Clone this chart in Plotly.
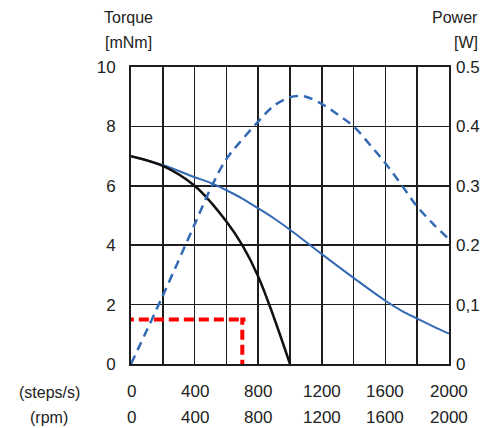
import plotly.graph_objects as go

# --- data ---
speed = [0, 200, 400, 600, 700, 800, 900, 1000]
torque_pullout_black = [7.0, 6.67, 6.0, 4.8, 4.0, 2.95, 1.55, 0.0]

speed_blue = [0, 200, 400, 500, 600, 700, 800, 900, 1000, 1200, 1400, 1600, 1700, 1800,
              1900, 2000]
torque_blue = [7.0, 6.7, 6.29, 6.1, 5.85, 5.57, 5.24, 4.9, 4.52, 3.7, 2.9, 2.13, 1.8,
               1.53, 1.27, 1.02]

speed_power = [0, 200, 400, 500, 600, 700, 800, 900, 1000, 1050, 1100, 1200, 1300,
               1400, 1500, 1600, 1700, 1800, 1900, 2000]
power = [0.0, 0.115, 0.235, 0.295, 0.345, 0.378, 0.408, 0.435, 0.449, 0.451, 0.450,
         0.438, 0.42, 0.40, 0.37, 0.338, 0.302, 0.265, 0.236, 0.21]

red_x = [-45, 720, 700, 700]
red_y = [1.5, 1.5, 1.5, 0.0]

x_tick_vals = [0, 400, 800, 1200, 1600, 2000]
steps_labels = ["0", "400", "800", "1200", "1600", "2000"]
rpm_labels = ["0", "400", "800", "1200", "1600", "2000"]
y_tick_vals = [0, 2, 4, 6, 8, 10]
p_tick_vals = [0, 0.1, 0.2, 0.3, 0.4, 0.5]
p_tick_text = ["0", "0,1", "0.2", "0.3", "0.4", "0.5"]

FONT = "Liberation Sans, Arial, sans-serif"
TXT = "#222222"
BLUE = "#3469b4"

# plot area in window pixels
PL, PR, PT, PB = 131, 458, 67, 364
W, H = 492, 428

fig = go.Figure()
fig.add_trace(go.Scatter(x=speed_power, y=power, mode="lines", yaxis="y2",
                         line=dict(color=BLUE, width=2.5, dash="9px,6px", shape="spline"),
                         hoverinfo="skip"))
fig.add_trace(go.Scatter(x=speed_blue, y=torque_blue, mode="lines",
                         line=dict(color=BLUE, width=2, shape="spline"), hoverinfo="skip"))
fig.add_trace(go.Scatter(x=speed, y=torque_pullout_black, mode="lines",
                         line=dict(color="#111111", width=2.5, shape="spline"), hoverinfo="skip"))
fig.add_trace(go.Scatter(x=red_x, y=red_y, mode="lines", cliponaxis=False,
                         line=dict(color="#ff0000", width=4, dash="10px,5px"), hoverinfo="skip"))

fig.update_layout(
    width=W, height=H,
    margin=dict(l=PL, r=W - PR, t=PT, b=H - PB, pad=0),
    paper_bgcolor="white", plot_bgcolor="white",
    showlegend=False,
    font=dict(family=FONT, size=17, color=TXT),
    xaxis=dict(range=[0, 2000], dtick=200, tick0=0, showticklabels=False,
               showgrid=True, gridcolor="#1e1e1e", gridwidth=1.5,
               showline=True, linecolor="#1e1e1e", linewidth=2, mirror=True,
               zeroline=False, fixedrange=True),
    yaxis=dict(range=[0, 10], tickvals=y_tick_vals, showgrid=True,
               gridcolor="#1e1e1e", gridwidth=1.5,
               showline=True, linecolor="#1e1e1e", linewidth=2, mirror=True,
               zeroline=False, ticks="", ticklabelstandoff=10, fixedrange=True),
    yaxis2=dict(range=[0, 0.5], tickvals=p_tick_vals, ticktext=p_tick_text,
                overlaying="y", side="right", showgrid=False, zeroline=False,
                ticks="", ticklabelstandoff=6, fixedrange=True),
)

annotations = []
for v, s, r in zip(x_tick_vals, steps_labels, rpm_labels):
    annotations.append(dict(x=v, y=0, xref="x", yref="paper", text=s, showarrow=False,
                            yanchor="middle", xanchor="center", yshift=-27))
    annotations.append(dict(x=v, y=0, xref="x", yref="paper", text=r, showarrow=False,
                            yanchor="middle", xanchor="center", yshift=-53))

pix_labels = [
    ("(steps/s)", 47, 392, "center"),
    ("(rpm)", 47, 417, "center"),
    ("Torque", 128, 18, "center"),
    ("[mNm]", 128, 42, "center"),
    ("Power", 490, 18, "right"),
    ("[W]", 490, 42, "right"),
]
for text, px, py, xa in pix_labels:
    annotations.append(dict(x=(px - PL) / (PR - PL), y=(PB - py) / (PB - PT),
                            xref="paper", yref="paper", text=text, showarrow=False,
                            xanchor=xa, yanchor="middle", font=dict(size=16)))
fig.update_layout(annotations=annotations)

fig.write_html("out.html", config={"displayModeBar": False, "staticPlot": True},
               post_script="document.body.style.margin='0';document.body.style.overflow='hidden';")
